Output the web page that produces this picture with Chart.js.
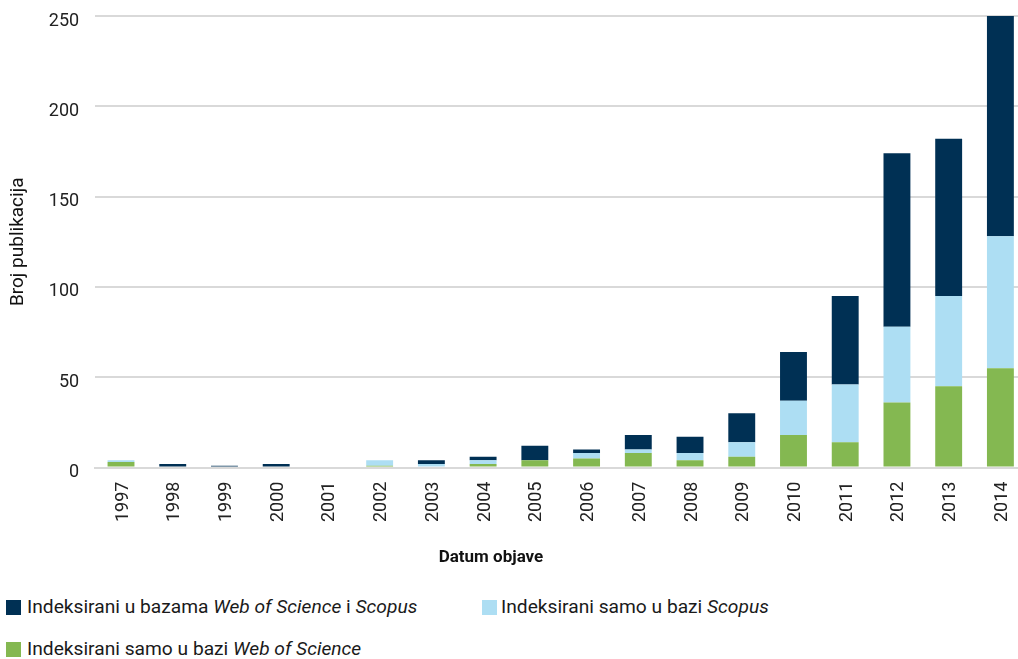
<!DOCTYPE html>
<html><head><meta charset="utf-8">
<script src="https://cdn.jsdelivr.net/npm/chart.js@4.4.1/dist/chart.umd.min.js"></script>
<style>
html,body{margin:0;padding:0;background:#fff;overflow:hidden;width:1018px;height:659px}
#wrap{position:relative;width:1018px;height:659px;overflow:hidden}
canvas{position:absolute;left:0;top:0}
.lg{position:absolute;font-family:Roboto,sans-serif;font-size:19.2px;color:#1a1a1a;white-space:nowrap;line-height:20px}
.sw{position:absolute;width:15px;height:15px}
#xt{position:absolute;left:391px;width:200px;top:546px;text-align:center;font-family:Roboto,sans-serif;font-weight:bold;font-size:17px;color:#111;line-height:20px}
</style></head>
<body><div id="wrap"><canvas id="c" width="1036" height="580" style="width:1036px;height:580px"></canvas>
<div id="xt"></div>
<div id="legend"></div></div>
<script>
const years = ['1997','1998','1999','2000','2001','2002','2003','2004','2005','2006','2007','2008','2009','2010','2011','2012','2013','2014'];
const wosOnly    = [3,0,0,0,0,1,0,2,4,5,8,4,6,18,14,36,45,55];
const scopusOnly = [1,0,0,0,0,3,2,2,0,3,2,4,8,19,32,42,50,73];
const both       = [0,2,1,2,0,0,2,2,8,2,8,9,16,27,49,96,87,122];
const yTicks = [0,50,100,150,200,250];
const yTitle = 'Broj publikacija';
const xTitle = 'Datum objave';
// legend labels as [text, italic?] segments
const labelBoth   = [['Indeksirani u bazama ',false],['Web of Science',true],[' i ',false],['Scopus',true]];
const labelScopus = [['Indeksirani samo u bazi ',false],['Scopus',true]];
const labelWos    = [['Indeksirani samo u bazi ',false],['Web of Science',true]];
const colBoth = '#003054', colScopus = '#addef3', colWos = '#84b851';

function segText(segs){return segs.map(s=>s[0]).join('');}

document.getElementById('xt').textContent = xTitle;

const ctx = document.getElementById('c').getContext('2d');
new Chart(ctx, {
  type: 'bar',
  data: {
    labels: years,
    datasets: [
      {label: segText(labelWos), data: wosOnly, backgroundColor: colWos},
      {label: segText(labelScopus), data: scopusOnly, backgroundColor: colScopus},
      {label: segText(labelBoth), data: both, backgroundColor: colBoth}
    ]
  },
  options: {
    responsive: false,
    animation: false,
    layout: {padding: {left: 7, top: 16, right: 0, bottom: 44}},
    plugins: {legend: {display: false}, tooltip: {enabled: false}},
    datasets: {bar: {categoryPercentage: 1, barPercentage: 0.52}},
    scales: {
      x: {
        stacked: true,
        grid: {display: false, drawTicks: false},
        border: {display: true, color: '#d9d9d9', width: 2},
        ticks: {font: {family: 'Roboto', size: 18}, color: '#222', maxRotation: 90, minRotation: 90, padding: 14, autoSkip: false, labelOffset: 2}
      },
      y: {
        stacked: true,
        min: yTicks[0], max: yTicks[yTicks.length-1],
        afterBuildTicks: (s) => { s.ticks = yTicks.map(v => ({value: v})); },
        afterFit: (s) => { s.width += 16; },
        grid: {color: '#d9d9d9', lineWidth: 2, drawTicks: true, tickLength: 14, tickColor: 'rgba(0,0,0,0)'},
        border: {display: false},
        ticks: {font: {family: 'Roboto', size: 18}, color: '#222', padding: 2, labelOffset: 5},
        title: {display: true, text: yTitle, font: {family: 'Roboto', size: 19}, color: '#111', padding: {top: 0, bottom: 1}}
      }
    }
  }
});

const legendItems = [
  {segs: labelBoth, color: colBoth, sx: 6, sy: 600, tx: 27},
  {segs: labelScopus, color: colScopus, sx: 482, sy: 600, tx: 501},
  {segs: labelWos, color: colWos, sx: 6, sy: 642, tx: 27}
];
const lg = document.getElementById('legend');
legendItems.forEach(it => {
  const sw = document.createElement('div');
  sw.className = 'sw'; sw.style.left = it.sx + 'px'; sw.style.top = it.sy + 'px'; sw.style.background = it.color;
  lg.appendChild(sw);
  const t = document.createElement('div');
  t.className = 'lg'; t.style.left = it.tx + 'px'; t.style.top = (it.sy - 3) + 'px';
  it.segs.forEach(s => {
    const e = document.createElement(s[1] ? 'i' : 'span');
    e.textContent = s[0];
    t.appendChild(e);
  });
  lg.appendChild(t);
});
</script>
</body></html>
